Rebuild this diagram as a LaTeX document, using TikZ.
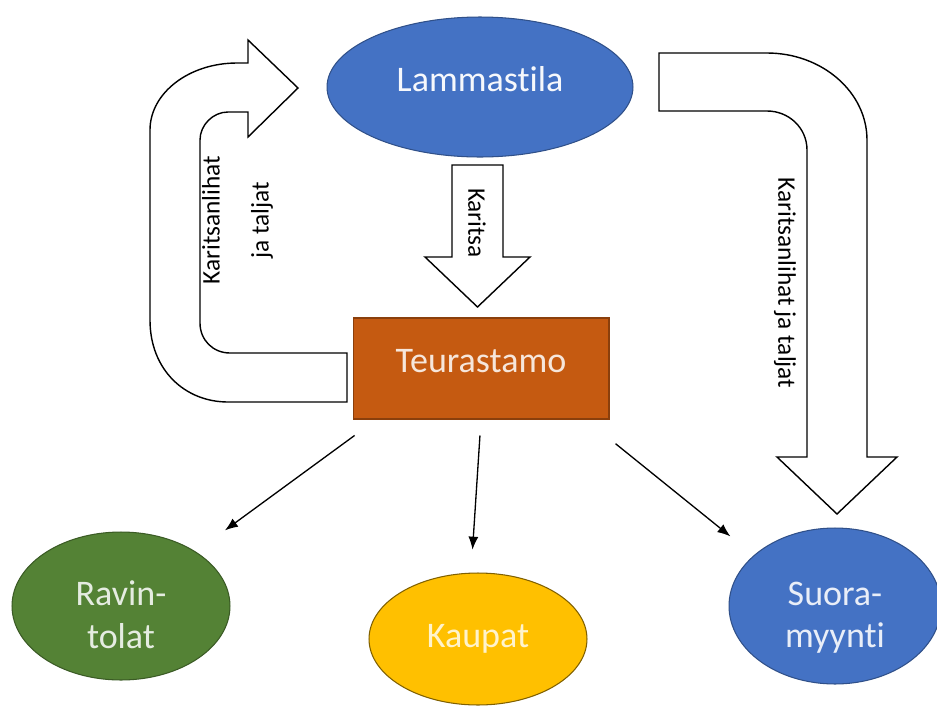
\documentclass[tikz,border=0pt]{standalone}
\usepackage{fontspec}
\setmainfont{Carlito}[Ligatures=CommonOff]
\usetikzlibrary{shapes.geometric,arrows.meta}
\definecolor{tilablue}{HTML}{4472C4}
\definecolor{teurorange}{HTML}{C55A11}
\definecolor{ravgreen}{HTML}{548235}
\definecolor{kaupgold}{HTML}{FFC000}
\tikzset{main node/.style={ellipse,line width=0.6pt,inner sep=0pt,align=center,
		font=\fontsize{20.5}{24}\selectfont},
	block arrow/.style={draw,fill=white,line width=0.8pt,line join=miter},
	flow/.style={draw,line width=0.75pt,-{Latex[length=2.6mm,width=2mm]}},
	arrow text/.style={font=\fontsize{14.4}{17}\selectfont},
}

\begin{document}
\begin{tikzpicture}[x=0.02cm,y=-0.02cm]
				\path[use as bounding box,fill=white] (0,0) rectangle (937,707);
				
				\node[main node,fill=tilablue,draw=tilablue!70!black,text=white!95!tilablue,
				minimum width=6.12cm,minimum height=2.8cm] (tila) at (480,87) {\rule[-9pt]{0pt}{9pt}Lammastila};
				\node[rectangle,fill=teurorange,draw=teurorange!70!black,line width=0.6pt,
				text=white!85!teurorange,font=\fontsize{20.5}{24}\selectfont,
				minimum width=5.12cm,minimum height=2.02cm] (teur) at (481,368.5) {\rule[-9pt]{0pt}{9pt}Teurastamo};
				\node[main node,fill=ravgreen,draw=ravgreen!70!black,text=white!85!ravgreen,
				minimum width=4.36cm,minimum height=2.96cm] (rav) at (121,606) {\rule{0pt}{24pt}Ravin-\\tolat};
				\node[main node,fill=kaupgold,draw=kaupgold!50!black,text=white!80!kaupgold,
				minimum width=4.36cm,minimum height=2.64cm] (kaup) at (478,639) {Kaupat};
				\node[main node,fill=tilablue,draw=tilablue!70!black,text=white!88!tilablue,
				minimum width=4.24cm,minimum height=3.12cm] (suora) at (835,606) {\rule{0pt}{27pt}Suora-\\myynti};
				
				% block arrows
				\draw[block arrow] (452,165) -- (503,165) -- (503,257) -- (530,257) -- (477.5,307)
				-- (425,257) -- (452,257) -- cycle;
				\draw[block arrow] (347,402) -- (228,402) .. controls (185,402) and (150,370) .. (150,320)
				-- (150,130) .. controls (150,93) and (189,63) .. (237,63) -- (248,63) -- (248,40)
				-- (298,88) -- (248,137) -- (248,112) -- (228,112) .. controls (213,112) and (200,125) .. (200,140)
				-- (200,323) .. controls (200,340) and (213,353) .. (230,353) -- (347,353) -- cycle;
				\draw[block arrow] (659,53) -- (767,53) .. controls (822,53) and (867,92) .. (867,140)
				-- (867,457) -- (897,457) -- (837,514) -- (777,457) -- (807,457) -- (807,150)
				.. controls (807,128) and (789,111) .. (767,111) -- (659,111) -- cycle;
				
				\node[arrow text,rotate=-90] (karitsa) at (477,223) {Karitsa};
				\node[arrow text,rotate=-90] (suoralbl) at (785,283) {Karitsanlihat ja taljat};
				\node[arrow text,rotate=90,align=center] (takaisin) at (237.5,220) {Karitsanlihat\\[11pt]ja taljat};
				
				\path
				(teur.-154) edge[flow,shorten <=0.54cm,shorten >=0.72cm] (rav.36.6)
				(teur.south) edge[flow,shorten <=0.32cm,shorten >=0.46cm] (kaup.96.6)
				(teur.-26.6) edge[flow,shorten <=0.77cm,shorten >=0.6cm] (suora.148.3);
				
			\end{tikzpicture}
\end{document}
